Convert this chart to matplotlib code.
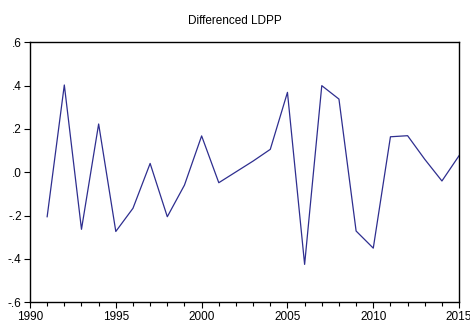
# Differenced LDPP line chart (EViews style)
import numpy as np
import matplotlib
matplotlib.use('Agg')
from matplotlib import pyplot as plt
from matplotlib.ticker import MultipleLocator, FuncFormatter

plt.rcParams['font.family'] = ['Liberation Sans', 'DejaVu Sans']

# Data:
years = list(range(1991, 2016))
values = [-0.205, 0.403, -0.263, 0.223, -0.273, -0.166, 0.041, -0.205, -0.059, 0.168,
          -0.048, 0.002, 0.052, 0.106, 0.369, -0.425, 0.400, 0.338, -0.271, -0.350,
          0.164, 0.169, 0.060, -0.040, 0.077]
yticks = [-0.6, -0.4, -0.2, 0.0, 0.2, 0.4, 0.6]

fig = plt.figure(figsize=(4.7, 3.27), dpi=100)
ax = fig.add_axes([0.0638, 0.0755, 0.9130, 0.7951])

ax.plot(years, values, color='#2e2e8f', linewidth=0.9)

ax.set_xlim(1990, 2015)
ax.set_ylim(-0.6, 0.6)
ax.xaxis.set_major_locator(MultipleLocator(5))
ax.xaxis.set_minor_locator(MultipleLocator(1))
ax.set_yticks(yticks)

# EViews drops the leading zero: .6, .4, -.2 ...
def fmt(v, pos):
    s = '%.1f' % v
    return s.replace('0.', '.')
ax.yaxis.set_major_formatter(FuncFormatter(fmt))

ax.tick_params(axis='both', which='major', direction='out', length=4, width=0.8,
               labelsize=8.5, colors='black', pad=2)
ax.tick_params(axis='both', which='minor', direction='out', length=3, width=0.8)
for s in ax.spines.values():
    s.set_linewidth(1.0)

fig.text(0.5, 0.935, 'Differenced LDPP', ha='center', va='center', fontsize=8.5)

plt.savefig('out.png', dpi=100)
